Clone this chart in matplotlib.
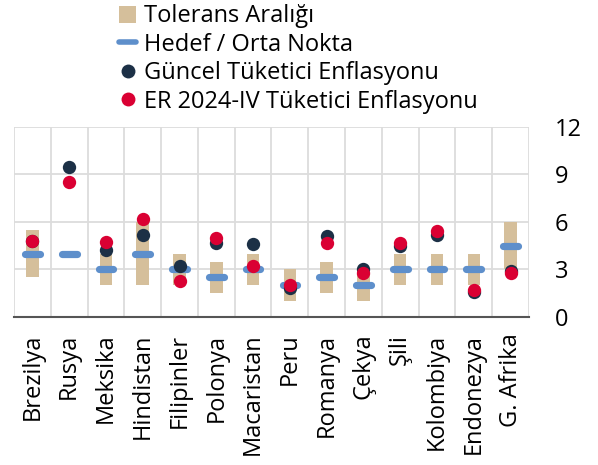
import matplotlib
matplotlib.use('Agg')
import matplotlib.pyplot as plt
from matplotlib.lines import Line2D
from matplotlib.patches import Patch

plt.rcParams['font.family'] = ['Open Sans', 'DejaVu Sans']

# countries and values
countries = ['Brezilya', 'Rusya', 'Meksika', 'Hindistan', 'Filipinler', 'Polonya',
             'Macaristan', 'Peru', 'Romanya', 'Çekya', 'Şili', 'Kolombiya',
             'Endonezya', 'G. Afrika']
band_low = [2.5, None, 2.0, 2.0, 2.0, 1.5, 2.0, 1.0, 1.5, 1.0, 2.0, 2.0, 2.0, 3.0]
band_high = [5.5, None, 4.0, 6.0, 4.0, 3.5, 4.0, 3.0, 3.5, 3.0, 4.0, 4.0, 4.0, 6.0]
target = [4.0, 4.0, 3.0, 4.0, 3.0, 2.5, 3.0, 2.0, 2.5, 2.0, 3.0, 3.0, 3.0, 4.5]
current = [4.8, 9.5, 4.2, 5.2, 3.2, 4.7, 4.6, 1.85, 5.1, 3.0, 4.5, 5.2, 1.6, 2.9]
er_2024 = [4.8, 8.5, 4.75, 6.2, 2.3, 5.0, 3.2, 2.0, 4.7, 2.8, 4.7, 5.4, 1.7, 2.8]

tan = '#D5BF9B'
blue = '#5E8FCB'
navy = '#1C3046'
red = '#DA0033'
fs = 17

fig = plt.figure(figsize=(5.98, 4.65), dpi=100)
ax = fig.add_axes([0.0234, 0.3183, 0.8612, 0.4086])

x = list(range(len(countries)))

# tolerance bands
for i in x:
    if band_low[i] is not None:
        ax.bar(i, band_high[i] - band_low[i], bottom=band_low[i], width=0.34,
               color=tan, zorder=2)

# target markers
tl = ax.hlines(target, [i - 0.2 for i in x], [i + 0.2 for i in x],
               colors=blue, linewidth=5.2, zorder=3)
tl.set_capstyle('round')

ax.scatter(x, current, s=92, color=navy, zorder=4, linewidths=0)
ax.scatter(x, er_2024, s=92, color=red, zorder=5, linewidths=0)

ax.set_xlim(-0.5, len(countries) - 0.5)
ax.set_ylim(0, 12)
ax.set_yticks([0, 3, 6, 9, 12])
ax.yaxis.tick_right()
ax.tick_params(axis='y', length=0, pad=18.5, labelsize=fs)
ax.set_xticks(x)
ax.set_xticklabels(countries, rotation=90, fontsize=fs)
ax.tick_params(axis='x', length=0, pad=12)

ax.set_xticks([i - 0.5 for i in range(len(countries) + 1)], minor=True)
ax.grid(True, which='minor', axis='x', color='#dcdcdc', linewidth=1.3, zorder=0)
ax.grid(True, which='major', axis='y', color='#dcdcdc', linewidth=1.3, zorder=0)
ax.tick_params(which='minor', length=0)
ax.set_axisbelow(True)

for s in ['top', 'left', 'right']:
    ax.spines[s].set_visible(False)
ax.spines['bottom'].set_color('#555555')
ax.spines['bottom'].set_linewidth(1.5)

handles = [
    Patch(facecolor=tan, edgecolor='none'),
    Line2D([0], [0], color=blue, linewidth=4, solid_capstyle='round'),
    Line2D([0], [0], marker='o', color='none', markerfacecolor=navy,
           markeredgecolor='none', markersize=10),
    Line2D([0], [0], marker='o', color='none', markerfacecolor=red,
           markeredgecolor='none', markersize=10),
]
labels = ['Tolerans Aralığı', 'Hedef / Orta Nokta', 'Güncel Tüketici Enflasyonu',
          'ER 2024-IV Tüketici Enflasyonu']
fig.legend(handles, labels, loc='upper left', bbox_to_anchor=(0.171, 1.026),
           frameon=False, fontsize=fs, handlelength=0.75, handletextpad=0.3,
           labelspacing=0.19, borderpad=0.2, handleheight=0.75)

fig.savefig('out.png', dpi=100)
